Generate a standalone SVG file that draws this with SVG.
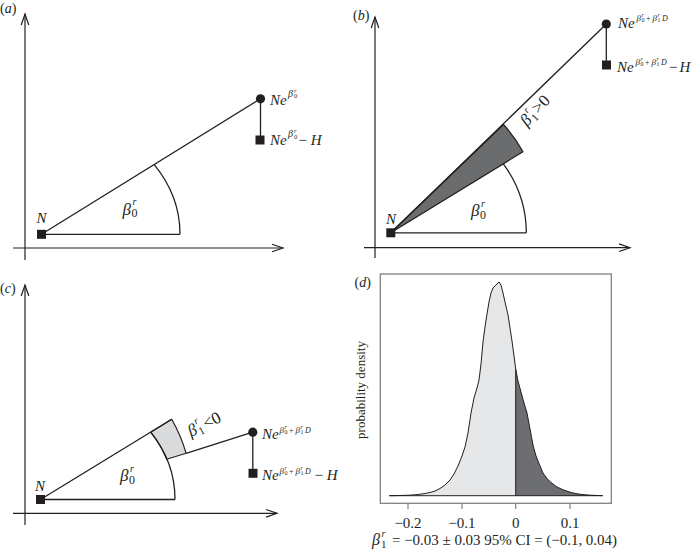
<svg xmlns="http://www.w3.org/2000/svg" width="693" height="555" viewBox="0 0 693 555">
<style>
.ln{fill:none;stroke:#231f20;stroke-width:1.3}
.ax{fill:none;stroke:#231f20;stroke-width:1.2;marker-end:url(#arr)}
.pt{fill:#231f20}
text{font-family:"Liberation Serif","DejaVu Serif",serif;fill:#231f20}
.i{font-style:italic}
</style>
<defs>
<marker id="arr" markerWidth="14" markerHeight="10" viewBox="-12 -5 14 10" refX="0" refY="0" orient="auto" markerUnits="userSpaceOnUse">
<path d="M-11,-3.8 L0,0 L-11,3.8" fill="none" stroke="#231f20" stroke-width="1.2"/>
</marker>
</defs>
<rect width="693" height="555" fill="#fff"/>

<!-- Panel a -->
<g id="panel-a">
<text x="0" y="12.5" font-size="14">(<tspan class="i">a</tspan>)</text>
<g id="a-connectors">
<path class="ax" d="M25,260 L25,14"/>
<path class="ax" d="M13,248 L283,248"/>
<path class="ln" d="M41.5,234.3 L180,234.3"/>
<path class="ln" d="M41.5,234.3 L260.5,98.8"/>
<path class="ln" d="M180,234.3 A138.5,120 0 0 0 154.2,164.6"/>
<path class="ln" d="M260.5,98.8 L260.5,140"/>
</g>
<g id="a-N"><rect class="pt" x="37" y="229.8" width="9" height="9"/><text class="i" x="36.5" y="223" font-size="15">N</text></g>
<g id="a-top"><circle class="pt" cx="260.5" cy="98.8" r="4.6"/>
<text font-size="15"><tspan class="i" x="270" y="104.5">Ne</tspan><tspan class="i" x="288" y="96.5" font-size="10">β</tspan><tspan class="i" x="294" y="92.5" font-size="6.5">r</tspan><tspan x="294" y="98" font-size="6.5">0</tspan></text></g>
<g id="a-bot"><rect class="pt" x="255.5" y="135.5" width="9" height="9"/>
<text font-size="15"><tspan class="i" x="270" y="145">Ne</tspan><tspan class="i" x="288" y="137" font-size="10">β</tspan><tspan class="i" x="294" y="133" font-size="6.5">r</tspan><tspan x="294" y="138.5" font-size="6.5">0</tspan><tspan x="298.5" y="145">− </tspan><tspan class="i" y="145">H</tspan></text></g>
<g id="a-beta0"><text font-size="17"><tspan class="i" x="122.5" y="214.5">β</tspan><tspan class="i" x="132.5" y="205" font-size="10">r</tspan><tspan x="131.5" y="217" font-size="12">0</tspan></text></g>
</g>

<!-- Panel b -->
<g id="panel-b">
<text x="353" y="20" font-size="14">(<tspan class="i">b</tspan>)</text>
<g id="b-connectors">
<path class="ax" d="M375,258 L375,17"/>
<path class="ax" d="M364,247.7 L630,247.7"/>
<path d="M390.8,232.8 L523,151.7 A156,156 0 0 0 503.5,124.5 Z" fill="#6b6c6e" stroke="#231f20" stroke-width="1.2" stroke-linejoin="round"/>
<path class="ln" d="M390.8,232.8 L526.3,232.8"/>
<path class="ln" d="M390.8,232.8 L606.3,24"/>
<path class="ln" d="M526.3,232.8 A135.5,124 0 0 0 503.3,163.8"/>
<path class="ln" d="M606.3,24 L606.3,65"/>
</g>
<g id="b-N"><rect class="pt" x="386.3" y="228.3" width="9" height="9"/><text class="i" x="386" y="223.5" font-size="15">N</text></g>
<g id="b-top"><circle class="pt" cx="606.3" cy="24" r="4.6"/>
<text font-size="15"><tspan class="i" x="618" y="28">Ne</tspan><tspan class="i" x="636.5" y="20.5" font-size="9">β</tspan><tspan class="i" x="641.5" y="17" font-size="6">r</tspan><tspan x="641.5" y="22" font-size="6">0</tspan><tspan x="646" y="20.5" font-size="8">+</tspan><tspan class="i" x="652.5" y="20.5" font-size="9">β</tspan><tspan class="i" x="657.5" y="17" font-size="6">r</tspan><tspan x="657.5" y="22" font-size="6">1</tspan><tspan class="i" x="662" y="20.5" font-size="8">D</tspan></text></g>
<g id="b-bot"><rect class="pt" x="602" y="60.5" width="9" height="9"/>
<text font-size="15"><tspan class="i" x="617" y="72">Ne</tspan><tspan class="i" x="635.5" y="64.5" font-size="9">β</tspan><tspan class="i" x="640.5" y="61" font-size="6">r</tspan><tspan x="640.5" y="66" font-size="6">0</tspan><tspan x="645" y="64.5" font-size="8">+</tspan><tspan class="i" x="651.5" y="64.5" font-size="9">β</tspan><tspan class="i" x="656.5" y="61" font-size="6">r</tspan><tspan x="656.5" y="66" font-size="6">1</tspan><tspan class="i" x="661" y="64.5" font-size="8">D</tspan><tspan x="669" y="72">−</tspan><tspan class="i" x="679.5" y="72">H</tspan></text></g>
<g id="b-beta0"><text font-size="17"><tspan class="i" x="471" y="216">β</tspan><tspan class="i" x="481" y="206.5" font-size="10">r</tspan><tspan x="480" y="218.5" font-size="12">0</tspan></text></g>
<g id="b-beta1" transform="translate(527,127) rotate(-47)"><text font-size="17"><tspan class="i" x="0" y="0">β</tspan><tspan class="i" x="10" y="-9" font-size="10">r</tspan><tspan x="9.5" y="3" font-size="11">1</tspan><tspan x="17" y="0">&gt;0</tspan></text></g>
</g>

<!-- Panel c -->
<g id="panel-c">
<text x="0" y="293" font-size="14">(<tspan class="i">c</tspan>)</text>
<g id="c-connectors">
<path class="ax" d="M25,525 L25,285"/>
<path class="ax" d="M13,513.3 L277,513.3"/>
<path d="M150.7,432.2 L171.7,419.3 A153,153 0 0 1 186.1,453.3 L166.7,459.3 A134.5,117 0 0 0 150.7,432.2 Z" fill="#d9dadc" stroke="#231f20" stroke-width="1.2" stroke-linejoin="round"/>
<path class="ln" d="M40.5,499.5 L175,499.5"/>
<path class="ln" d="M40.5,499.5 L171.7,419.3"/>
<path class="ln" d="M175,499.5 A134.5,117 0 0 0 150.7,432.2"/>
<path class="ln" d="M186.1,453.3 L252.8,432.2"/>
<path class="ln" d="M252.8,432.2 L252.8,473.3"/>
</g>
<g id="c-N"><rect class="pt" x="36" y="495" width="9" height="9"/><text class="i" x="35" y="490.5" font-size="15">N</text></g>
<g id="c-top"><circle class="pt" cx="252.8" cy="432.2" r="4.6"/>
<text font-size="15"><tspan class="i" x="262" y="439">Ne</tspan><tspan class="i" x="279.5" y="432.5" font-size="9">β</tspan><tspan class="i" x="284.5" y="429" font-size="6">r</tspan><tspan x="284.5" y="434" font-size="6">0</tspan><tspan x="289" y="432.5" font-size="8">+</tspan><tspan class="i" x="295.5" y="432.5" font-size="9">β</tspan><tspan class="i" x="300.5" y="429" font-size="6">r</tspan><tspan x="300.5" y="434" font-size="6">1</tspan><tspan class="i" x="305" y="432.5" font-size="8">D</tspan></text></g>
<g id="c-bot"><rect class="pt" x="248.5" y="468.8" width="9" height="9"/>
<text font-size="15"><tspan class="i" x="262" y="480">Ne</tspan><tspan class="i" x="279.5" y="473.5" font-size="9">β</tspan><tspan class="i" x="284.5" y="470" font-size="6">r</tspan><tspan x="284.5" y="475" font-size="6">0</tspan><tspan x="289" y="473.5" font-size="8">+</tspan><tspan class="i" x="295.5" y="473.5" font-size="9">β</tspan><tspan class="i" x="300.5" y="470" font-size="6">r</tspan><tspan x="300.5" y="475" font-size="6">1</tspan><tspan class="i" x="305" y="473.5" font-size="8">D</tspan><tspan x="314.5" y="480">− </tspan><tspan class="i" y="480">H</tspan></text></g>
<g id="c-beta0"><text font-size="17"><tspan class="i" x="120" y="481">β</tspan><tspan class="i" x="130" y="471.5" font-size="10">r</tspan><tspan x="129" y="483.5" font-size="12">0</tspan></text></g>
<g id="c-beta1" transform="translate(191,437) rotate(-27)"><text font-size="17"><tspan class="i" x="0" y="0">β</tspan><tspan class="i" x="10" y="-9" font-size="10">r</tspan><tspan x="9.5" y="3" font-size="11">1</tspan><tspan x="17" y="0">&lt;0</tspan></text></g>
</g>

<!-- Panel d -->
<g id="panel-d">
<text x="354.5" y="286.5" font-size="14">(<tspan class="i">d</tspan>)</text>
<g id="d-density">
<path d="M389.3,495.7 L400,495.5 L410,495.2 L418,494.5 L425,493.5 L430,492.5 L435,491 L440,488.5 L445,485 L450,480 L454,474 L458,466 L462,456 L465,447 L468,433 L471,413 L474,398 L477,388 L479,380 L481,364 L483,342 L485,327 L487,314 L489,302 L491,293 L493,288 L495,286 L497,284 L499,282 L501,285 L503,293 L505,302 L508,315 L510,328 L512,341 L514,356 L515.7,369 L515.7,495.7 Z" fill="#e6e7e8"/>
<path d="M515.7,369 L518,381 L521,392 L524,403 L527,413 L530,429 L533,445 L536,456 L540,466 L543,473 L547,478.5 L551,482.5 L557,487 L563,489.8 L568,491.5 L573,493 L580,494.3 L590,495.2 L602.7,495.7 L515.7,495.7 Z" fill="#6d6e71"/>
<path fill="none" stroke="#231f20" stroke-width="1" stroke-linejoin="round" d="M389.3,495.7 L400,495.5 L410,495.2 L418,494.5 L425,493.5 L430,492.5 L435,491 L440,488.5 L445,485 L450,480 L454,474 L458,466 L462,456 L465,447 L468,433 L471,413 L474,398 L477,388 L479,380 L481,364 L483,342 L485,327 L487,314 L489,302 L491,293 L493,288 L495,286 L497,284 L499,282 L501,285 L503,293 L505,302 L508,315 L510,328 L512,341 L514,356 L515.7,369 L518,381 L521,392 L524,403 L527,413 L530,429 L533,445 L536,456 L540,466 L543,473 L547,478.5 L551,482.5 L557,487 L563,489.8 L568,491.5 L573,493 L580,494.3 L590,495.2 L602.7,495.7"/>
<path fill="none" stroke="#231f20" stroke-width="1" d="M389.3,495.7 L602.7,495.7 M515.7,369 L515.7,495.7"/>
</g>
<g id="d-frame">
<rect x="380.3" y="274" width="231" height="229.3" fill="none" stroke="#808080" stroke-width="1.3"/>
<path fill="none" stroke="#808080" stroke-width="1.2" d="M408,503.3 V509 M462,503.3 V509 M515.7,503.3 V509 M570,503.3 V509"/>
</g>
<g id="d-ticks" font-size="15" text-anchor="middle">
<text x="408" y="528">−0.2</text>
<text x="462" y="528">−0.1</text>
<text x="515.7" y="528">0</text>
<text x="570" y="528">0.1</text>
</g>
<text transform="translate(365,390) rotate(-90)" font-size="13" text-anchor="middle">probability density</text>
<g id="d-caption"><text font-size="16"><tspan class="i" x="372" y="545">β</tspan><tspan class="i" x="381.5" y="536.5" font-size="10">r</tspan><tspan x="381" y="548" font-size="11">1</tspan></text>
<text x="392" y="545" font-size="15" textLength="225" lengthAdjust="spacing">= −0.03 ± 0.03   95% CI = (−0.1, 0.04)</text></g>
</g>
</svg>
